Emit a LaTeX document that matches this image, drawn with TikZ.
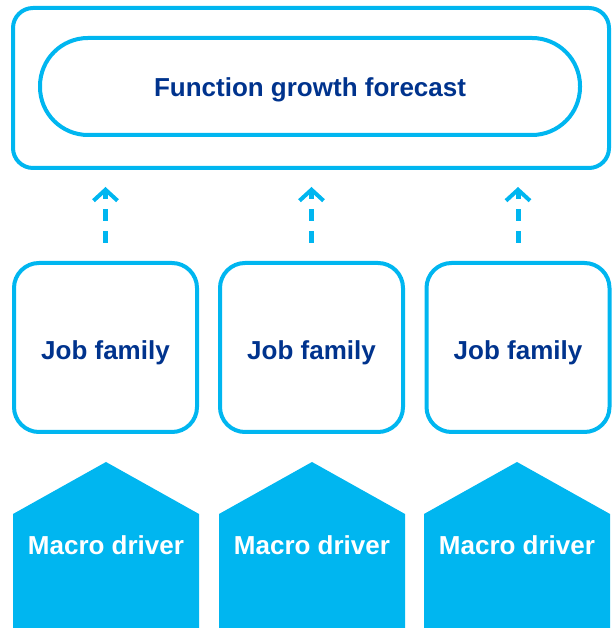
\documentclass[tikz,border=0pt]{standalone}
\usepackage{fontspec}
\setmainfont{Liberation Sans}
\usetikzlibrary{arrows.meta,positioning}

\definecolor{skyblue}{HTML}{00B6F0}
\definecolor{navyblue}{HTML}{00338D}

\tikzset{
    outerbox/.style={draw=skyblue, line width=4pt, rounded corners=20pt,
        minimum width=596pt, minimum height=160pt},
    pillbox/.style={draw=skyblue, line width=4pt, rounded corners=48pt,
        minimum width=540pt, minimum height=97pt,
        text height=24pt, text depth=4pt,
        font=\bfseries\fontsize{26}{30}\selectfont, text=navyblue},
    jobbox/.style={draw=skyblue, line width=4pt, rounded corners=25pt,
        minimum width=183pt, minimum height=169pt,
        text height=28pt, text depth=4pt,
        font=\bfseries\fontsize{26}{30}\selectfont, text=navyblue},
    drivertext/.style={font=\bfseries\fontsize{26}{30}\selectfont, text=white},
    uparrow/.style={draw=skyblue, line width=5pt, dash pattern=on 12pt off 10pt,
        -{Straight Barb[length=11pt, width=24pt, line width=4pt]},
        shorten <=18pt, shorten >=17pt}
}

\begin{document}
\begin{tikzpicture}[x=1pt, y=1pt]
    \useasboundingbox (0,0) rectangle (615,628);

    % --- Forecast ---
    \node[outerbox] (frame) at (311,540) {};
    \node[pillbox] (forecast) at (310,541.5) {Function growth forecast};

    % --- Job families ---
    \node[jobbox] (job1) at (105.5,280.5) {Job family};
    \node[jobbox] (job2) at (311.5,280.5) {Job family};
    \node[jobbox] (job3) at (518,280.5) {Job family};

    % --- Macro drivers (house shapes) ---
    \foreach \cx [count=\i] in {106,312,517} {
        \fill[skyblue] (\cx-93,0) -- (\cx-93,114) -- (\cx,166)
            -- (\cx+93,114) -- (\cx+93,0) -- cycle;
        \node[drivertext] (driver\i) at (\cx,83) {Macro driver};
    }

    % --- Dashed arrows ---
    \draw[uparrow] (job1.north) -- (job1.north |- frame.south);
    \draw[uparrow] (job2.north) -- (job2.north |- frame.south);
    \draw[uparrow] (job3.north) -- (job3.north |- frame.south);

\end{tikzpicture}
\end{document}
